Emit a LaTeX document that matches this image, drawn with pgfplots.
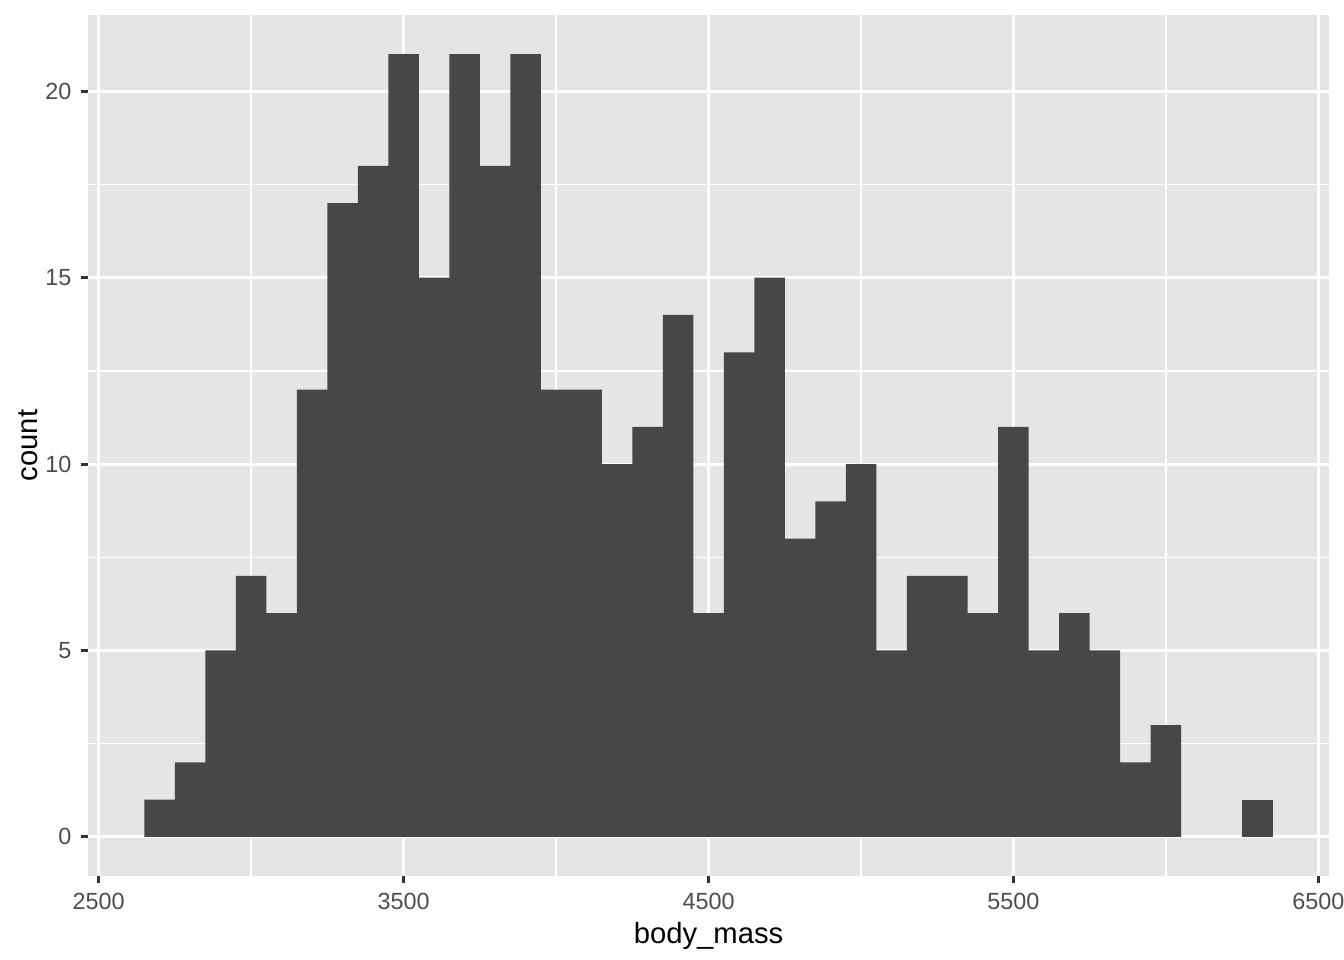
\documentclass[border=0pt]{standalone}
\usepackage{pgfplots}
\pgfplotsset{compat=1.18}
\usepackage{fontspec}
\setmainfont{Liberation Sans}
\definecolor{panelbg}{HTML}{E5E5E5}
\definecolor{barfill}{HTML}{474747}
\definecolor{ticktext}{HTML}{4D4D4D}
\definecolor{tickcol}{HTML}{333333}
\begin{document}
\begin{tikzpicture}
\begin{axis}[
  name=ax,
  scale only axis,
  width=465.4bp, height=322.9bp,
  xmin=2465, xmax=6535, ymin=-1.05, ymax=22.05,
  axis background/.style={fill=panelbg},
  axis x line*=bottom, axis y line*=left,
  axis line style={draw=none},
  xtick={2500,3500,4500,5500,6500},
  minor xtick={3000,4000,5000,6000},
  ytick={0,5,10,15,20},
  minor ytick={2.5,7.5,12.5,17.5},
  grid=both,
  major grid style={white, line width=1.07pt},
  minor grid style={white, line width=0.53pt},
  tick align=outside,
  major tick length=2.75pt,
  minor tick length=0pt,
  every tick/.style={tickcol, line width=1.07pt},
  /pgf/number format/assume math mode=true,
  /pgf/number format/1000 sep={},
  tick label style={font=\fontsize{8.8}{10}\selectfont, text=ticktext},
  xlabel={body\_mass},
  ylabel={count},
  xlabel shift=-2bp,
  ylabel shift=-4bp,
  label style={font=\fontsize{11}{13}\selectfont, text=black},
]
\addplot[ybar interval, fill=barfill, draw=none] coordinates {
(2650,1) (2750,2) (2850,5) (2950,7) (3050,6) (3150,12) (3250,17) (3350,18)
(3450,21) (3550,15) (3650,21) (3750,18) (3850,21) (3950,12) (4050,12) (4150,10)
(4250,11) (4350,14) (4450,6) (4550,13) (4650,15) (4750,8) (4850,9) (4950,10)
(5050,5) (5150,7) (5250,7) (5350,6) (5450,11) (5550,5) (5650,6) (5750,5)
(5850,2) (5950,3) (6050,0)
};
\addplot[ybar interval, fill=barfill, draw=none] coordinates {
(6250,1) (6350,0)
};
\end{axis}
\pgfresetboundingbox
\path[use as bounding box] ([shift={(-33bp,-31.5bp)}]ax.south west) rectangle ++(504bp,360bp);
\end{tikzpicture}
\end{document}
